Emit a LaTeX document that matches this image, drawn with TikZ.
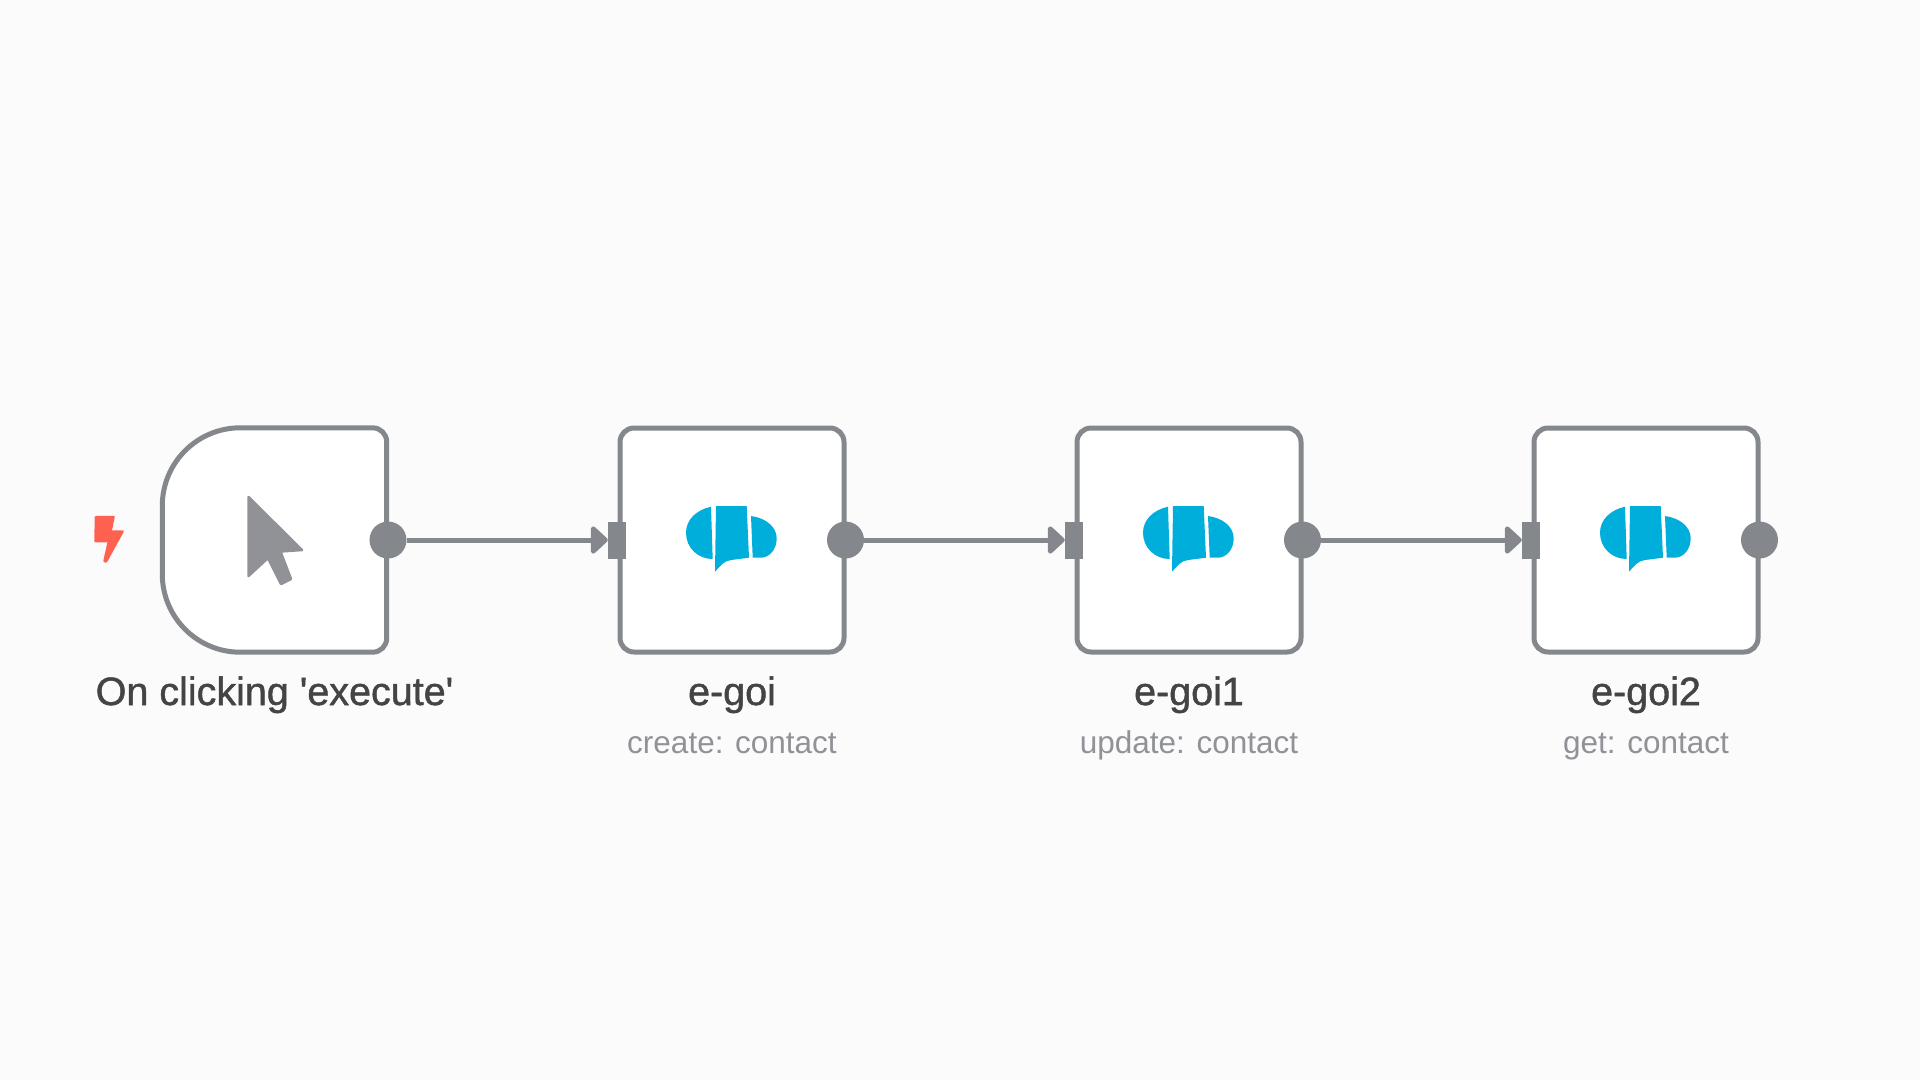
\documentclass[tikz,border=0pt]{standalone}
\usepackage{fontspec}
\setmainfont{Liberation Sans}
\newfontfamily\titlefont[FakeBold=1.2]{Liberation Sans}
\usetikzlibrary{arrows.meta,calc}
\definecolor{bgc}{HTML}{FBFBFB}
\definecolor{edgec}{HTML}{84878B}
\definecolor{iconc}{HTML}{909298}
\definecolor{logoc}{HTML}{00AEDB}
\definecolor{boltc}{HTML}{FF6150}
\definecolor{titlec}{HTML}{444444}
\definecolor{subc}{HTML}{909298}
\tikzset{
  nodebox/.style={draw=edgec,line width=5pt,fill=white,rounded corners=14pt,minimum width=224pt,minimum height=224pt,inner sep=0pt},
  outport/.style={circle,fill=edgec,minimum size=37pt,inner sep=0pt},
  inport/.style={fill=edgec,minimum width=18pt,minimum height=37pt,inner sep=0pt},
  link/.style={draw=edgec,line width=5pt,-{Triangle[length=18pt,width=32pt,round]}},
  titletext/.style={font=\titlefont\fontsize{39.5}{46}\selectfont,text=titlec,inner sep=0pt,anchor=base},
  subtext/.style={font=\fontsize{31.5}{38}\selectfont,text=subc,inner sep=0pt,anchor=base},
  logo/.pic={
    \fill[logoc] (-21,-33.3) .. controls (-36,-30) and (-46,-20) .. (-46,-7.3) .. controls (-46,8) and (-34,19) .. (-19.3,19) -- cycle;
    \fill[logoc] (-16,-34) -- (14.7,-34) -- (17,17.7) -- (-1,20) .. controls (-8,21) and (-11,25) .. (-17,31.7) -- cycle;
    \fill[logoc] (19,-24) .. controls (34,-22) and (44.7,-13) .. (44.7,-1.7) .. controls (44.7,10) and (37,17.7) .. (28.7,17.7) -- (20.7,17.7) -- cycle;
  }
}
\begin{document}
\begin{tikzpicture}[x=1pt,y=-1pt]
\useasboundingbox[fill=bgc] (0,0) rectangle (1920,1080);
% trigger
\node[minimum width=224pt,minimum height=224pt,inner sep=0pt] (trig) at (274.5,540) {};
\draw[draw=edgec,line width=5pt,fill=white]
  ($(trig.north east)+(-14,0)$) arc[start angle=90,end angle=0,radius=14pt]
  -- ($(trig.south east)+(0,-14)$) arc[start angle=0,end angle=-90,radius=14pt]
  -- ($(trig.south west)+(78,0)$) arc[start angle=270,end angle=180,radius=78pt]
  -- ($(trig.north west)+(0,78)$) arc[start angle=180,end angle=90,radius=78pt]
  -- cycle;
\fill[iconc,draw=iconc,line width=2.5pt,line join=round] (248.5,497) -- (302,550) -- (280.5,551.5) -- (291,579) -- (281,584) -- (268,558) -- (248.5,576) -- cycle;
\fill[boltc,draw=boltc,line width=2.5pt,line join=round] (96,517) -- (113.5,517) -- (110.5,531.5) -- (122.5,531.5) -- (106,561.5) -- (104.5,561) -- (109,541) -- (95.5,541) -- cycle;
\node[titletext] (t0) at (274.5,705) {On clicking 'execute'};
\node[outport] (o0) at (388,540) {};
% e-goi nodes
\foreach \n/\cx/\ttl/\sb in {1/732/e-goi/create: contact,2/1189/e-goi1/update: contact,3/1646/e-goi2/get: contact}{
  \node[nodebox] (b\n) at (\cx,540) {};
  \pic at (\cx,540) {logo};
  \node[titletext] (t\n) at (\cx,705) {\ttl};
  \node[subtext] (s\n) at (\cx,753) {\sb};
  \node[outport] (o\n) at (\cx+113.5,540) {};
  \node[inport] (i\n) at (\cx-115,540) {};
}
\draw[link] (o0) -- (i1.west);
\draw[link] (o1) -- (i2.west);
\draw[link] (o2) -- (i3.west);
\end{tikzpicture}
\end{document}
